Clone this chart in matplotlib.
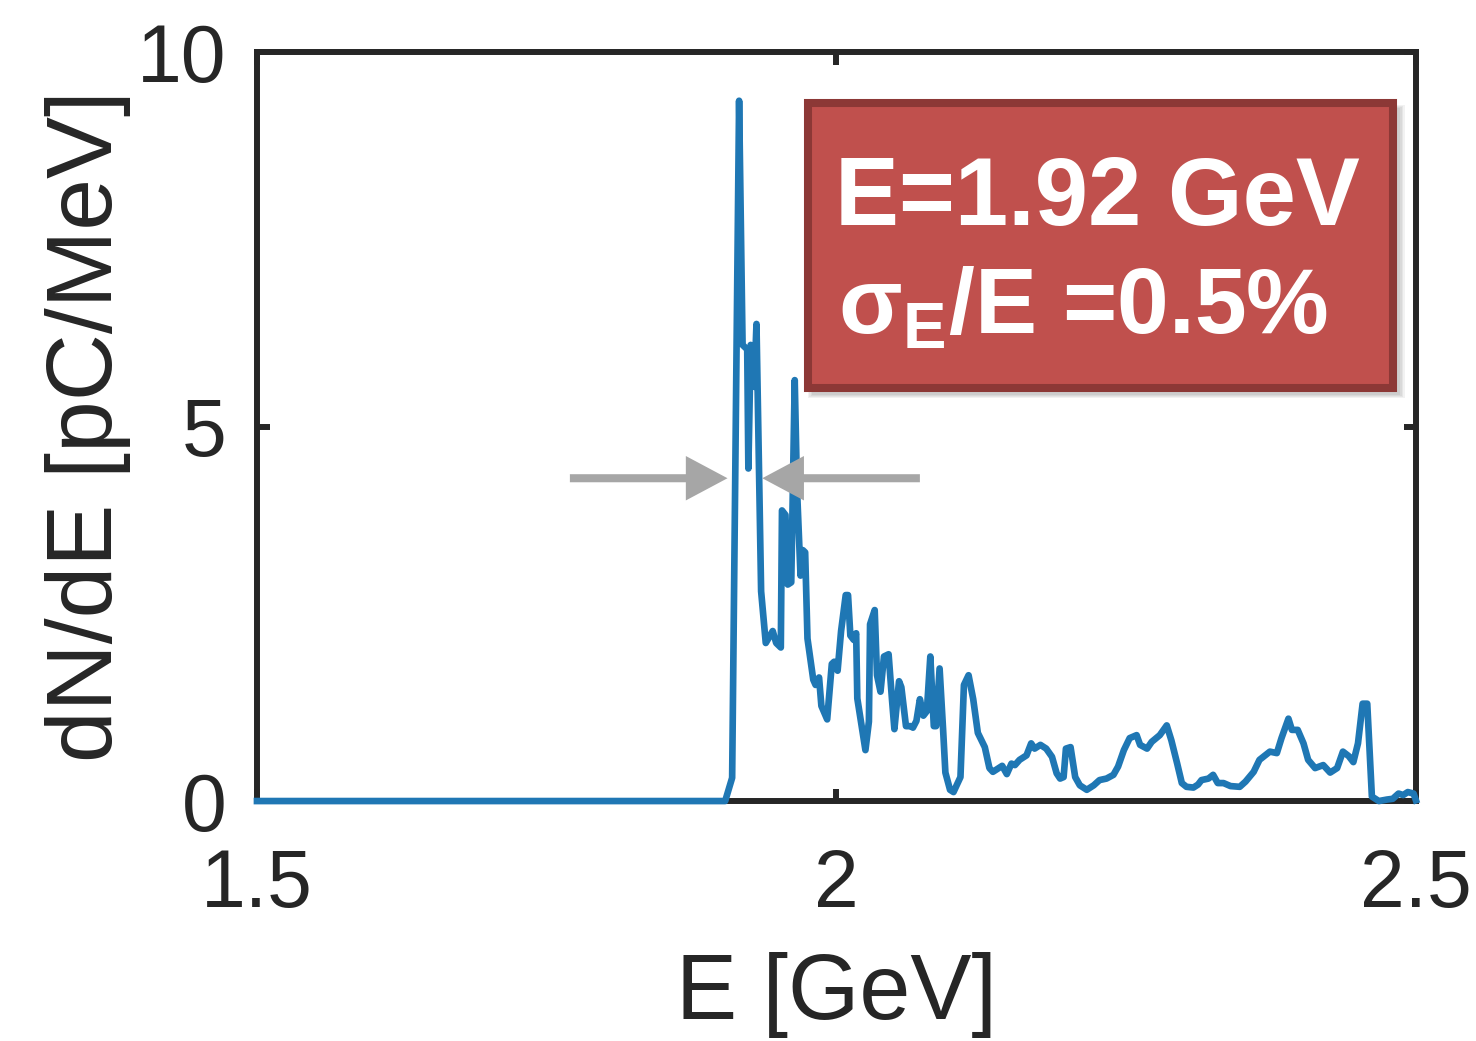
import matplotlib
matplotlib.use('Agg')
import matplotlib.pyplot as plt
from matplotlib.patches import Rectangle

plt.rcParams['font.family'] = ['Liberation Sans', 'DejaVu Sans']

# spectrum: energy [GeV] and dN/dE [pC/MeV]
energy = [1.500, 1.904, 1.910, 1.916, 1.919, 1.923, 1.924, 1.926, 1.929, 1.931,
          1.935, 1.939, 1.945, 1.948, 1.952, 1.953, 1.956, 1.958, 1.961, 1.964,
          1.966, 1.969, 1.971, 1.973, 1.975, 1.980, 1.982, 1.985, 1.987, 1.992,
          1.996, 1.998, 2.001, 2.004, 2.008, 2.010, 2.012, 2.015, 2.017, 2.018,
          2.025, 2.028, 2.029, 2.033, 2.035, 2.038, 2.041, 2.045, 2.048, 2.050,
          2.054, 2.056, 2.060, 2.064, 2.066, 2.069, 2.072, 2.075, 2.078, 2.081,
          2.084, 2.086, 2.089, 2.092, 2.094, 2.098, 2.101, 2.107, 2.110, 2.114,
          2.118, 2.122, 2.128, 2.132, 2.135, 2.140, 2.143, 2.147, 2.151, 2.154,
          2.158, 2.164, 2.168, 2.171, 2.176, 2.181, 2.186, 2.190, 2.193, 2.196,
          2.198, 2.202, 2.206, 2.210, 2.216, 2.222, 2.227, 2.233, 2.239, 2.243,
          2.248, 2.253, 2.259, 2.262, 2.268, 2.272, 2.279, 2.285, 2.289, 2.294,
          2.298, 2.302, 2.308, 2.312, 2.315, 2.321, 2.325, 2.329, 2.334, 2.340,
          2.348, 2.353, 2.360, 2.365, 2.374, 2.380, 2.384, 2.390, 2.393, 2.398,
          2.403, 2.407, 2.413, 2.420, 2.426, 2.432, 2.437, 2.442, 2.446, 2.450,
          2.454, 2.458, 2.462, 2.468, 2.475, 2.480, 2.485, 2.489, 2.493, 2.498,
          2.500]
charge = [0.00, 0.00, 0.31, 9.35, 6.09, 6.03, 4.44, 6.09, 5.53, 6.37,
          2.80, 2.11, 2.27, 2.11, 2.05, 3.88, 3.82, 2.89, 2.92, 5.62,
          4.16, 3.01, 3.35, 3.32, 2.17, 1.62, 1.55, 1.65, 1.27, 1.09,
          1.83, 1.86, 1.74, 2.27, 2.75, 2.75, 2.21, 2.15, 2.24, 1.37,
          0.68, 1.06, 2.36, 2.55, 1.68, 1.46, 1.93, 1.96, 1.34, 0.96,
          1.60, 1.52, 1.00, 1.00, 0.98, 1.07, 1.36, 1.14, 1.20, 1.93,
          1.00, 1.00, 1.77, 0.96, 0.38, 0.15, 0.12, 0.32, 1.55, 1.68,
          1.36, 0.91, 0.72, 0.44, 0.39, 0.44, 0.47, 0.36, 0.50, 0.48,
          0.55, 0.61, 0.77, 0.70, 0.75, 0.70, 0.59, 0.37, 0.30, 0.32,
          0.70, 0.72, 0.32, 0.21, 0.15, 0.21, 0.28, 0.30, 0.35, 0.46,
          0.68, 0.84, 0.88, 0.75, 0.70, 0.79, 0.88, 1.01, 0.81, 0.50,
          0.24, 0.19, 0.18, 0.22, 0.28, 0.30, 0.35, 0.24, 0.24, 0.20,
          0.19, 0.26, 0.39, 0.55, 0.66, 0.64, 0.84, 1.10, 0.95, 0.95,
          0.77, 0.55, 0.44, 0.48, 0.38, 0.44, 0.66, 0.60, 0.52, 0.77,
          1.30, 1.30, 0.06, 0.00, 0.02, 0.03, 0.10, 0.08, 0.12, 0.10,
          0.01]

x_ticks = [1.5, 2, 2.5]
x_ticklabels = ['1.5', '2', '2.5']
y_ticks = [0, 5, 10]

# FWHM marker arrows (tail x, tip x), drawn at height fwhm_y
fwhm_left = (1.770, 1.906)
fwhm_right = (2.072, 1.936)
fwhm_y = 4.31

mean_energy = 1.92
spread_pct = 0.5

axis_color = '#262626'
line_color = '#1F77B4'
arrow_color = '#A6A6A6'

fig = plt.figure(figsize=(14.76, 10.41), dpi=100)
ax = fig.add_axes([0.1741, 0.2305, 0.7852, 0.7195])

ax.plot(energy, charge, color=line_color, lw=4.8, zorder=3, clip_on=False)

ax.set_xlim(1.5, 2.5)
ax.set_ylim(0, 10)
ax.set_xticks(x_ticks)
ax.set_xticklabels(x_ticklabels)
ax.set_yticks(y_ticks)
ax.tick_params(direction='in', length=9, width=4.3, colors=axis_color,
               labelsize=58, top=True, right=True)
ax.tick_params(axis='x', pad=34)
ax.tick_params(axis='y', pad=22)
for s in ax.spines.values():
    s.set_linewidth(4.3)
    s.set_color(axis_color)

ax.set_xlabel('E [GeV]', fontsize=66, color=axis_color, labelpad=20)
ax.set_ylabel('dN/dE [pC/MeV]', fontsize=67, color=axis_color, labelpad=4)

# arrows marking the spectral width
for tail, tip in (fwhm_left, fwhm_right):
    ax.annotate('', xy=(tip, fwhm_y), xytext=(tail, fwhm_y),
                arrowprops=dict(arrowstyle='simple,head_length=3.0,head_width=3.2,tail_width=0.58',
                                mutation_scale=10, color=arrow_color, lw=0,
                                shrinkA=0, shrinkB=0),
                zorder=4)

# text box with soft shadow
bx0, by0, bw, bh = 0.5474, 0.6273, 0.3964, 0.2738
for i in range(4):
    d = 0.002 * (i + 1)
    fig.patches.append(Rectangle((bx0 + 0.004 - d / 2, by0 - 0.006 - d / 2),
                                 bw + d, bh + d, transform=fig.transFigure,
                                 facecolor='black', edgecolor='none', alpha=0.05, zorder=5))
fig.patches.append(Rectangle((bx0, by0), bw, bh, transform=fig.transFigure,
                             facecolor='#C0504D', edgecolor='#8C3836', lw=5.8, zorder=6))

fig.text(bx0 + bw / 2 - 0.002, 0.808, f'E={mean_energy:.2f} GeV', fontsize=69,
         fontweight='bold', color='white', ha='center', va='center', zorder=7)
fig.text(0.568, 0.703, f'σ$_\\mathregular{{E}}$/E ={spread_pct}%', fontsize=67,
         fontweight='bold', color='white', ha='left', va='center', zorder=7)

fig.savefig('out.png', dpi=100)
